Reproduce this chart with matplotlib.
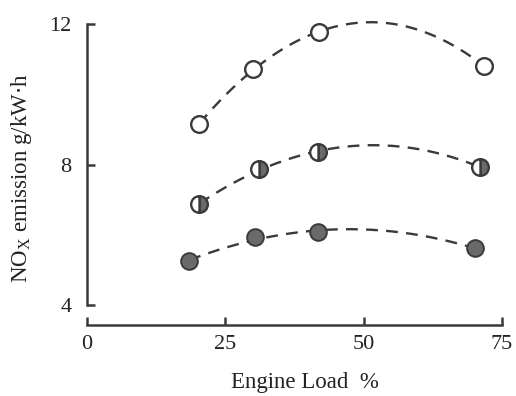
import numpy as np
import matplotlib
matplotlib.use("Agg")
import matplotlib.pyplot as plt

# Data
load_open = [20.3, 30.0, 42.0, 71.8]
nox_open = [9.15, 10.72, 11.77, 10.80]

load_half = [20.3, 31.0, 41.7, 71.0]
nox_half = [6.87, 7.87, 8.35, 7.93]

load_full = [18.5, 30.4, 41.7, 70.1]
nox_full = [5.25, 5.93, 6.07, 5.62]

xticks = [0, 25, 50, 75]
yticks = [4, 8, 12]

plt.rcParams['font.family'] = ['Liberation Serif', 'DejaVu Serif']
ink = '#3a3a3a'
gray = '#6a6a6a'

fig = plt.figure(figsize=(5.16, 3.96), dpi=100)
ax = fig.add_axes([87/516, 71/396, (507.5-87)/516, (325-17)/396])
ax.set_xlim(0, 76)
ax.set_ylim(3.43, 12.2)

def fit_curve(x, y):
    c = np.polyfit(x, y, 2)
    xs = np.linspace(min(x), max(x), 200)
    return xs, np.polyval(c, xs)

for x, y in [(load_open, nox_open), (load_half, nox_half), (load_full, nox_full)]:
    xs, ys = fit_curve(x, y)
    ax.plot(xs, ys, color=ink, lw=1.7, dashes=(5, 3.5), zorder=1)

ax.plot(load_open, nox_open, 'o', ms=12, mfc='white', mec=ink, mew=1.7, ls='none', zorder=3)
ax.plot(load_half, nox_half, 'o', ms=12, fillstyle='right', mfc=gray, mfcalt='white',
        mec=ink, mew=1.7, ls='none', zorder=3)
ax.plot(load_full, nox_full, 'o', ms=12, mfc=gray, mec=ink, mew=1.4, ls='none', zorder=3)

for s in ['top', 'right']:
    ax.spines[s].set_visible(False)
ax.spines['left'].set_bounds(4, 12)
ax.spines['bottom'].set_bounds(0, 75)
for s in ['left', 'bottom']:
    ax.spines[s].set_color(ink)
    ax.spines[s].set_linewidth(1.8)

ax.set_xticks(xticks)
ax.set_yticks(yticks)
ax.tick_params(direction='in', length=6, width=1.8, color=ink, labelcolor='#222',
               labelsize=16)
ax.tick_params(axis='y', pad=11)
ax.tick_params(axis='x', pad=7)

ax.set_ylabel(r'NO$_\mathregular{X}$ emission g/kW$\cdot$h', fontsize=16.5, color='#222')
ax.set_xlabel('Engine Load  %', fontsize=16.5, color='#222')
ax.yaxis.set_label_coords(-0.125, 0.477)
ax.xaxis.set_label_coords(0.518, -0.152)

fig.savefig('out.png', dpi=100)
